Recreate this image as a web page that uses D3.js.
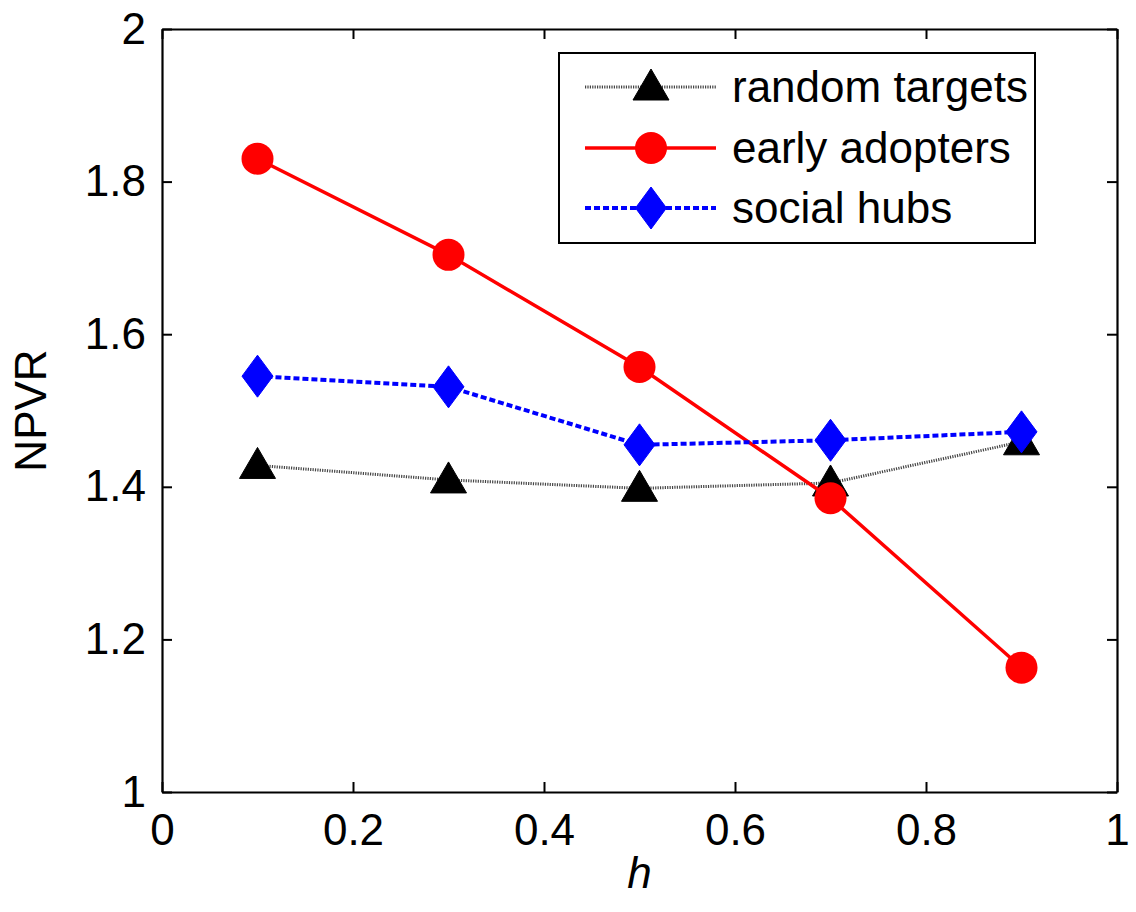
<!DOCTYPE html>
<html>
<head>
<meta charset="utf-8">
<script src="https://cdn.jsdelivr.net/npm/d3@7"></script>
<style>
  body { margin: 0; background: #fff; }
  text { font-family: "Liberation Sans", Arial, sans-serif; }
</style>
</head>
<body>
<div id="chart"></div>
<script>
// values
var hValues = [0.1, 0.3, 0.5, 0.7, 0.9];
var randomTargets = [1.428, 1.409, 1.398, 1.405, 1.459];
var earlyAdopters = [1.830, 1.704, 1.557, 1.385, 1.163];
var socialHubs = [1.545, 1.531, 1.455, 1.461, 1.472];
var xTicks = [0, 0.2, 0.4, 0.6, 0.8, 1];
var yTicks = [1, 1.2, 1.4, 1.6, 1.8, 2];
var seriesNames = ["random targets", "early adopters", "social hubs"];

var W = 1136, H = 912;
var margin = {left: 162, right: 19, top: 29, bottom: 120};

var svg = d3.select("#chart").append("svg")
  .attr("width", W)
  .attr("height", H);

var x = d3.scaleLinear().domain([0, 1]).range([margin.left, W - margin.right]);
var y = d3.scaleLinear().domain([1, 2]).range([H - margin.bottom, margin.top]);

var TICK = 10;
var FS = 44;

// axes box with inner ticks (matlab style)
var xAxis = svg.append("g")
  .attr("transform", "translate(0," + y(1) + ")")
  .call(d3.axisBottom(x).tickValues(xTicks).tickSizeInner(-TICK).tickSizeOuter(0)
    .tickPadding(22).tickFormat(d3.format("")));
var yAxis = svg.append("g")
  .attr("transform", "translate(" + x(0) + ",0)")
  .call(d3.axisLeft(y).tickValues(yTicks).tickSizeInner(-TICK).tickSizeOuter(0)
    .tickPadding(16).tickFormat(d3.format("")));
var xTop = svg.append("g")
  .attr("transform", "translate(0," + y(2) + ")")
  .call(d3.axisTop(x).tickValues(xTicks).tickSizeInner(-TICK).tickSizeOuter(0).tickFormat(""));
var yRight = svg.append("g")
  .attr("transform", "translate(" + x(1) + ",0)")
  .call(d3.axisRight(y).tickValues(yTicks).tickSizeInner(-TICK).tickSizeOuter(0).tickFormat(""));

[xAxis, yAxis, xTop, yRight].forEach(function(g) {
  g.select(".domain").attr("stroke", "#000").attr("stroke-width", 2.2);
  g.selectAll(".tick line").attr("stroke", "#000").attr("stroke-width", 2);
  g.selectAll(".tick text").attr("font-size", FS).attr("fill", "#000")
    .style("font-family", "'Liberation Sans', Arial, sans-serif");
});
xAxis.selectAll(".tick text").attr("dy", "0.71em");

// axis labels
svg.append("text")
  .attr("x", x(0.5))
  .attr("y", 888)
  .attr("text-anchor", "middle")
  .attr("font-size", FS)
  .attr("font-style", "italic")
  .text("h");

svg.append("text")
  .attr("transform", "translate(46," + y(1.5) + ") rotate(-90)")
  .attr("text-anchor", "middle")
  .attr("font-size", FS)
  .text("NPVR");

var styles = [
  {data: randomTargets, color: "#000", line: "#444", width: 3, dash: "1.2,1.2", marker: "triangle"},
  {data: earlyAdopters, color: "#ff0000", line: "#ff0000", width: 3.5, dash: null, marker: "circle"},
  {data: socialHubs, color: "#0000ff", line: "#0000ff", width: 4, dash: "6,3", marker: "diamond"}
];

function markerPath(kind) {
  if (kind == "triangle") return "M0,-18 L18,13 L-18,13 Z";
  if (kind == "diamond") return "M0,-21 L15.5,0 L0,21 L-15.5,0 Z";
  return null;
}

function drawMarker(g, kind, color) {
  if (kind == "circle") {
    g.append("circle").attr("r", 16).attr("fill", color);
  } else {
    g.append("path").attr("d", markerPath(kind)).attr("fill", color)
      .attr("stroke", color).attr("stroke-width", 1).attr("stroke-linejoin", "round");
  }
}

var line = d3.line()
  .x(function(d, i) { return x(hValues[i]); })
  .y(function(d) { return y(d); });

styles.forEach(function(s) {
  svg.append("path")
    .attr("d", line(s.data))
    .attr("fill", "none")
    .attr("stroke", s.line)
    .attr("stroke-width", s.width)
    .attr("stroke-dasharray", s.dash);
  s.data.forEach(function(v, i) {
    var g = svg.append("g").attr("transform", "translate(" + x(hValues[i]) + "," + y(v) + ")");
    drawMarker(g, s.marker, s.color);
  });
});

// legend
var legend = svg.append("g");
legend.append("rect")
  .attr("x", 559).attr("y", 53)
  .attr("width", 476).attr("height", 190)
  .attr("fill", "#fff").attr("stroke", "#000").attr("stroke-width", 2);

var rowY = [87, 148, 208];
styles.forEach(function(s, i) {
  legend.append("line")
    .attr("x1", 585).attr("x2", 716)
    .attr("y1", rowY[i]).attr("y2", rowY[i])
    .attr("stroke", s.line).attr("stroke-width", s.width)
    .attr("stroke-dasharray", s.dash);
  var g = legend.append("g").attr("transform", "translate(651," + rowY[i] + ")");
  drawMarker(g, s.marker, s.color);
  legend.append("text")
    .attr("x", 732).attr("y", rowY[i])
    .attr("dy", "0.35em")
    .attr("font-size", FS)
    .text(seriesNames[i]);
});
</script>
</body>
</html>
